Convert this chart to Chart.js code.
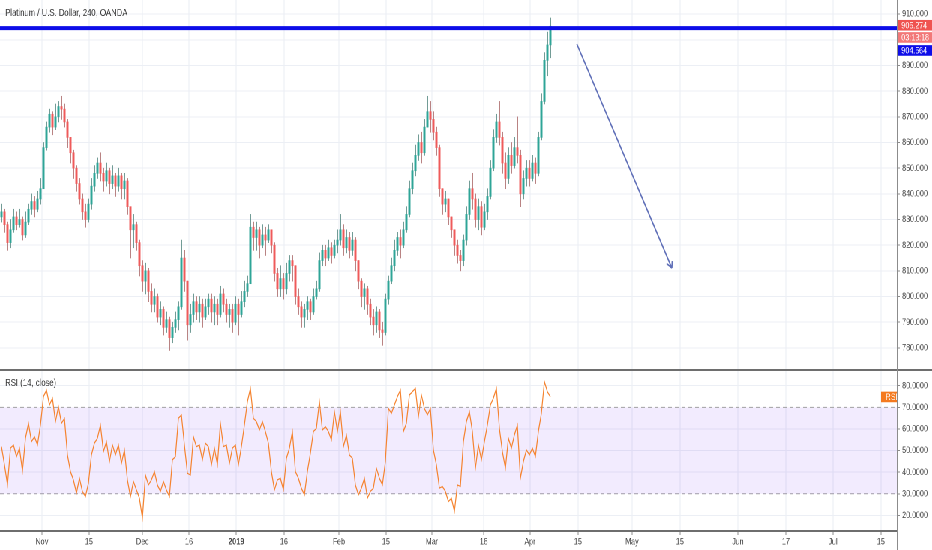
<!DOCTYPE html>
<html>
<head>
<meta charset="utf-8">
<title>Platinum / U.S. Dollar, 240, OANDA</title>
<script src="https://cdn.jsdelivr.net/npm/chart.js"></script>
<style>
	html,body{margin:0;padding:0;background:#fff;overflow:hidden;}
	/* the reference is squeezed horizontally, so draw wide and squeeze the same way */
	#wrap{position:absolute;left:0;top:0;width:1243px;height:550px;transform:scaleX(0.7498);transform-origin:0 0;}
	#mainChart{position:absolute;left:0;top:0;}
	#rsiChart{position:absolute;left:0;top:371px;}
</style>
</head>
<body>
<div id="wrap">
	<canvas id="mainChart" width="1243" height="371"></canvas>
	<canvas id="rsiChart" width="1243" height="179"></canvas>
</div>
<script>
const chartTitle = "Platinum / U.S. Dollar, 240, OANDA";
const rsiTitle = "RSI (14, close)";

// one candle per slot (open = previous close)
const firstOpen = 831;
const closes = [
	833, 828, 821, 826, 831, 828, 830, 824, 829, 834,
	837, 834, 838, 842, 858, 866, 871, 866, 870, 874,
	873, 868, 862, 856, 850, 844, 838, 833, 830, 836,
	843, 848, 852, 848, 845, 849, 844, 847, 843, 847,
	842, 845, 835, 826, 828, 821, 812, 806, 810, 802,
	797, 800, 792, 795, 788, 791, 784, 788, 791, 796,
	815, 806, 789, 793, 798, 794, 797, 792, 796, 799,
	794, 797, 793, 801, 797, 793, 795, 790, 797, 793,
	798, 802, 805, 827, 823, 826, 820, 824, 822, 826,
	820, 809, 803, 807, 803, 809, 814, 812, 800, 796,
	792, 795, 798, 794, 800, 803, 814, 818, 815, 819,
	816, 820, 822, 826, 819, 823, 818, 822, 814, 806,
	800, 803, 797, 792, 789, 794, 787, 786, 799, 806,
	812, 818, 823, 820, 826, 832, 842, 849, 855, 860,
	856, 866, 872, 869, 864, 858, 842, 836, 838, 831,
	826, 820, 816, 814, 822, 832, 842, 838, 830, 835,
	827, 833, 839, 850, 862, 868, 862, 852, 846, 855,
	851, 858, 855, 840, 846, 850, 846, 852, 848, 862,
	876, 892, 898, 905.274
];
const highs = [
	836, 834, 829, 830, 834, 833, 834, 831, 833, 836,
	840, 839, 841, 846, 860, 868, 873, 872, 875, 876,
	878, 875, 869, 862, 857, 851, 846, 840, 836, 838,
	846, 851, 854, 856, 850, 852, 850, 851, 848, 850,
	848, 848, 846, 834, 832, 829, 822, 814, 813, 811,
	805, 803, 801, 798, 796, 794, 792, 790, 794, 798,
	822, 818, 806, 797, 801, 800, 800, 799, 799, 801,
	801, 800, 799, 804, 803, 799, 797, 797, 800, 799,
	802, 806, 808, 832, 829, 829, 827, 828, 827, 828,
	826, 821, 811, 812, 809, 813, 816, 816, 812, 803,
	798, 797, 800, 799, 803, 806, 817, 820, 820, 822,
	821, 822, 826, 832, 828, 826, 825, 825, 823, 814,
	807, 805, 804, 799, 795, 796, 795, 790, 801, 808,
	815, 822, 825, 826, 829, 835, 845, 852, 859, 863,
	864, 869, 878, 876, 872, 866, 859, 842, 841, 838,
	831, 826, 822, 818, 824, 835, 845, 848, 840, 838,
	837, 836, 842, 853, 865, 871, 876, 864, 856, 858,
	860, 862, 870, 857, 849, 853, 853, 855, 854, 864,
	879, 895, 903, 908.5
];
const lows = [
	829, 825, 818, 819, 825, 826, 827, 822, 823, 828,
	832, 831, 833, 836, 844, 857, 864, 863, 865, 868,
	869, 866, 858, 852, 846, 841, 836, 830, 827, 829,
	834, 841, 846, 845, 841, 843, 840, 842, 839, 841,
	838, 838, 832, 815, 819, 818, 808, 802, 801, 798,
	794, 794, 790, 789, 785, 786, 779, 782, 786, 787,
	795, 802, 783, 786, 790, 791, 790, 788, 791, 793,
	790, 789, 789, 792, 794, 790, 788, 786, 789, 785,
	792, 796, 800, 806, 818, 818, 815, 819, 816, 821,
	817, 806, 800, 800, 799, 801, 806, 806, 797, 793,
	788, 788, 791, 791, 793, 799, 802, 812, 812, 814,
	813, 815, 817, 820, 816, 817, 815, 816, 810, 803,
	796, 795, 793, 789, 785, 786, 784, 781, 785, 797,
	805, 810, 816, 815, 819, 825, 831, 840, 847, 853,
	852, 855, 866, 864, 861, 855, 839, 832, 833, 828,
	823, 816, 813, 810, 812, 820, 830, 834, 827, 826,
	824, 826, 830, 838, 849, 860, 859, 848, 842, 844,
	848, 850, 852, 835, 838, 843, 843, 845, 844, 847,
	861, 875, 886, 893
];
const rsiValues = [
	51.8, 43.4, 34.1, 51.1, 52.6, 47.2, 51.1, 40.5, 55.7, 62.6,
	54.1, 56.4, 52.6, 61.8, 74.9, 78.0, 71.1, 74.2, 63.4, 70.3,
	62.6, 64.9, 48.0, 40.3, 36.4, 30.3, 37.2, 31.1, 28.7, 34.9,
	48.0, 53.4, 55.7, 61.8, 49.5, 54.1, 44.9, 52.6, 48.0, 52.6,
	44.1, 50.3, 36.4, 28.7, 35.7, 31.8, 28.0, 18.7, 38.7, 34.1,
	36.4, 40.3, 34.1, 31.1, 35.7, 31.8, 28.7, 45.7, 47.2, 64.9,
	66.5, 52.6, 39.5, 38.7, 56.4, 51.8, 52.6, 45.7, 53.4, 51.8,
	43.4, 51.1, 43.4, 62.6, 51.8, 52.6, 44.1, 51.1, 52.6, 43.4,
	51.8, 61.8, 72.6, 78.8, 64.9, 63.4, 59.5, 63.4, 58.8, 53.4,
	40.3, 31.8, 36.4, 37.2, 31.8, 46.4, 51.1, 58.8, 40.3, 37.2,
	32.6, 29.5, 40.3, 48.8, 58.8, 60.3, 72.6, 59.5, 61.1, 58.8,
	54.9, 68.0, 58.8, 68.0, 51.8, 57.2, 48.0, 46.4, 34.1, 29.5,
	32.6, 37.2, 28.0, 31.1, 32.6, 41.8, 37.2, 34.1, 44.9, 69.5,
	67.2, 71.1, 74.9, 78.0, 58.8, 62.6, 75.7, 77.2, 78.8, 65.7,
	75.7, 69.5, 66.5, 69.5, 50.3, 43.4, 32.6, 33.4, 31.1, 26.4,
	28.0, 21.8, 34.1, 33.4, 54.1, 63.4, 68.0, 58.8, 41.8, 52.6,
	45.7, 54.1, 61.8, 71.1, 74.2, 78.8, 60.3, 49.5, 41.8, 55.7,
	51.1, 57.2, 61.8, 37.2, 44.9, 50.3, 48.0, 51.1, 47.2, 58.8,
	67.2, 81.9, 77.2, 74.8
];

// time axis: label and its slot position (weekends skipped)
const tickLabels = ["Nov", "15", "Dec", "16", "2019", "16", "Feb", "15", "Mar", "18", "Apr", "15", "May", "15", "Jun", "17", "Jul", "15"];
const tickPos = [13.5, 29.2, 47.0, 62.5, 78.3, 94.2, 112.5, 128.2, 143.5, 160.8, 176.2, 192.2, 210.2, 226.2, 245.5, 261.5, 277.2, 293.2];
const priceTicks = [780, 790, 800, 810, 820, 830, 840, 850, 860, 870, 880, 890, 900, 910];
const rsiTicks = [20, 30, 40, 50, 60, 70, 80];
const rsiBands = [70, 30];

const levelPrice = 904.564;
const countdown = "03:13:18";
const arrowFrom = [191.8, 898.4];
const arrowTo = [223.5, 811.1];

const SX = 932 / 1243;
const AXIS_W = 47;
const FONT = '"Liberation Sans", Arial, sans-serif';
const xMin = -0.5, xMax = 298.5;

const opens = closes.map((c, i) => i ? closes[i - 1] : firstOpen);
const lastPrice = closes[closes.length - 1];
const upColor = '#2ea597', downColor = '#ef5a5a';

// keep chart.js from reserving room for half tick labels at the ends
function noPad(s) {
	s.paddingTop = 0;
	s.paddingBottom = 0;
	s.paddingLeft = 0;
	s.paddingRight = 0;
}

function axisLine(chart) {
	const ctx = chart.ctx, x = chart.chartArea.right + 0.75;
	ctx.save();
	ctx.strokeStyle = '#8c8c8c';
	ctx.lineWidth = 1.5;
	ctx.beginPath();
	ctx.moveTo(x, 0);
	ctx.lineTo(x, chart.height);
	ctx.stroke();
	ctx.restore();
}

function tag(ctx, x, yc, w, bg, text) {
	ctx.fillStyle = bg;
	ctx.fillRect(x, yc - 5.3, w, 10.6);
	ctx.fillStyle = '#fff';
	ctx.textBaseline = 'middle';
	ctx.textAlign = 'left';
	ctx.fillText(text, x + 6, yc + 0.5);
}

const mainOverlay = {
	id: 'mainOverlay',
	afterDraw(chart) {
		const ctx = chart.ctx, a = chart.chartArea, xs = chart.scales.x, ys = chart.scales.y;
		ctx.save();
		ctx.font = '10.3px ' + FONT;
		ctx.fillStyle = '#3a3a3a';
		ctx.textBaseline = 'alphabetic';
		ctx.fillText(chartTitle, 7, 16);

		// arrow head, worked out in the squeezed space so it looks right on screen
		const x0 = xs.getPixelForValue(arrowFrom[0]) * SX, y0 = ys.getPixelForValue(arrowFrom[1]);
		const x1 = xs.getPixelForValue(arrowTo[0]) * SX, y1 = ys.getPixelForValue(arrowTo[1]);
		const ang = Math.atan2(y1 - y0, x1 - x0);
		ctx.strokeStyle = '#6070b8';
		ctx.lineWidth = 1.6;
		ctx.beginPath();
		[-1, 1].forEach(s => {
			ctx.moveTo(x1 / SX, y1);
			ctx.lineTo((x1 - 7 * Math.cos(ang + s * 0.45)) / SX, y1 - 7 * Math.sin(ang + s * 0.45));
		});
		ctx.stroke();

		// pane separator
		ctx.fillStyle = '#6e6e6e';
		ctx.fillRect(0, chart.height - 2, chart.width, 2);

		ctx.font = '9.5px ' + FONT;
		const yl = ys.getPixelForValue(lastPrice);
		tag(ctx, a.right, yl - 1, AXIS_W, '#ef5350', lastPrice.toFixed(3));
		tag(ctx, a.right, yl + 11.2, AXIS_W, '#f27878', countdown);
		tag(ctx, a.right, yl + 24.2, AXIS_W, '#0d0de8', levelPrice.toFixed(3));
		ctx.restore();
		axisLine(chart);
	}
};

const rsiOverlay = {
	id: 'rsiOverlay',
	afterDraw(chart) {
		const ctx = chart.ctx, a = chart.chartArea, ys = chart.scales.y;
		ctx.save();
		ctx.font = '10.3px ' + FONT;
		ctx.fillStyle = '#3a3a3a';
		ctx.textBaseline = 'alphabetic';
		ctx.fillText(rsiTitle, 7, 15);
		ctx.font = '9.5px ' + FONT;
		const yr = ys.getPixelForValue(rsiValues[rsiValues.length - 1]);
		tag(ctx, a.right - 21, yr, 21, '#f47a1f', 'RSI');
		ctx.restore();
		axisLine(chart);
	}
};

const timeAxis = (showLabels) => ({
	type: 'linear',
	min: xMin,
	max: xMax,
	offset: false,
	afterBuildTicks: s => { s.ticks = tickPos.map(v => ({value: v})); },
	afterFit: s => { s.height = showLabels ? 19 : 0; noPad(s); },
	ticks: {
		display: showLabels,
		autoSkip: false,
		maxRotation: 0,
		padding: 1,
		color: '#454545',
		font: c => ({size: 9.5, family: FONT, weight: tickLabels[c.index] === '2019' ? 'bold' : 'normal'}),
		callback: (v, i) => tickLabels[i]
	},
	grid: {color: '#e8ecf2', offset: false, drawTicks: showLabels, tickLength: 4, tickColor: '#8c8c8c'},
	border: {display: showLabels, color: '#6e6e6e', width: 2}
});

const valueAxis = (min, max, ticksList, digits, gridColor) => ({
	type: 'linear',
	position: 'right',
	min: min,
	max: max,
	afterBuildTicks: s => { s.ticks = ticksList.map(v => ({value: v})); },
	afterFit: s => { s.width = AXIS_W; noPad(s); },
	ticks: {color: '#454545', padding: 3, font: {size: 9.5, family: FONT}, callback: v => v.toFixed(digits)},
	grid: {color: gridColor, tickColor: '#8c8c8c', tickLength: 4},
	border: {display: false}
});

new Chart(document.getElementById('mainChart'), {
	type: 'bar',
	data: {
		datasets: [{
			type: 'line',
			data: [{x: xMin, y: levelPrice}, {x: xMax, y: levelPrice}],
			borderColor: '#0d0de8',
			borderWidth: 4,
			pointRadius: 0
		}, {
			type: 'line',
			data: [{x: arrowFrom[0], y: arrowFrom[1]}, {x: arrowTo[0], y: arrowTo[1]}],
			borderColor: '#6070b8',
			borderWidth: 1.6,
			pointRadius: 0
		}, {
			data: closes.map((c, i) => ({x: i, y: [opens[i], c]})),
			backgroundColor: closes.map((c, i) => c >= opens[i] ? upColor : downColor),
			barThickness: 2.3,
			minBarLength: 1,
			grouped: false
		}, {
			data: closes.map((c, i) => ({x: i, y: [lows[i], highs[i]]})),
			backgroundColor: closes.map((c, i) => c >= opens[i] ? '#5f8f88' : '#b07272'),
			barThickness: 1.1,
			grouped: false
		}]
	},
	options: {
		responsive: false,
		devicePixelRatio: 2,
		animation: false,
		events: [],
		layout: {padding: 0},
		plugins: {legend: {display: false}, tooltip: {enabled: false}},
		scales: {
			x: timeAxis(false),
			y: valueAxis(771, 915.5, priceTicks, 3, '#eceff5')
		}
	},
	plugins: [mainOverlay]
});

new Chart(document.getElementById('rsiChart'), {
	type: 'line',
	data: {
		datasets: [{
			data: rsiValues.map((v, i) => ({x: i, y: v})),
			borderColor: '#f5832f',
			borderWidth: 1.2,
			pointRadius: 0,
			tension: 0,
			order: 0
		}, {
			data: [{x: xMin, y: rsiBands[0]}, {x: xMax, y: rsiBands[0]}],
			borderColor: '#a3a3a3',
			borderWidth: 1,
			borderDash: [5, 4],
			backgroundColor: 'rgba(110, 30, 240, 0.09)',
			fill: '+1',
			pointRadius: 0,
			order: 1
		}, {
			data: [{x: xMin, y: rsiBands[1]}, {x: xMax, y: rsiBands[1]}],
			borderColor: '#a3a3a3',
			borderWidth: 1,
			borderDash: [5, 4],
			fill: false,
			pointRadius: 0,
			order: 1
		}]
	},
	options: {
		responsive: false,
		devicePixelRatio: 2,
		animation: false,
		events: [],
		layout: {padding: 0},
		plugins: {legend: {display: false}, tooltip: {enabled: false}},
		scales: {
			x: timeAxis(true),
			y: valueAxis(12.8, 86.8, rsiTicks, 4,
				c => (c.tick && rsiBands.includes(c.tick.value)) ? 'rgba(0,0,0,0)' : '#eceff5')
		}
	},
	plugins: [rsiOverlay]
});
</script>
</body>
</html>
